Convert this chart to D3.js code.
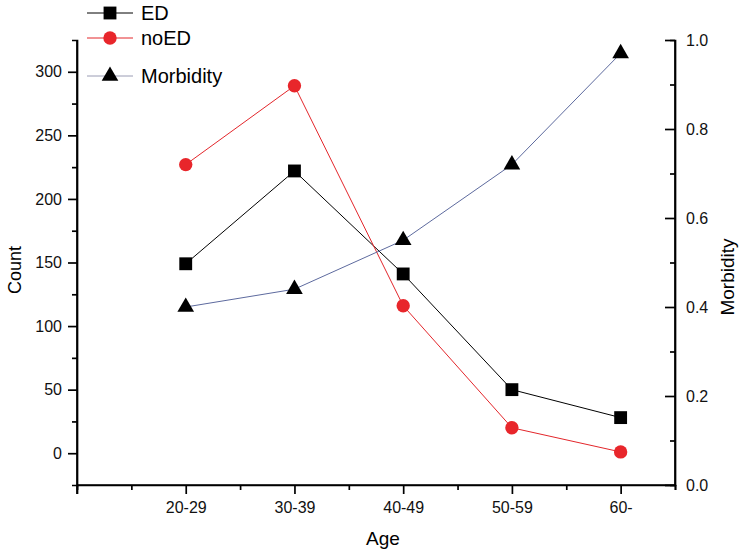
<!DOCTYPE html>
<html>
<head>
<meta charset="utf-8">
<script src="https://cdn.jsdelivr.net/npm/d3@7"></script>
<style>
  body { margin: 0; background: #fff; }
  svg { font-family: "Liberation Sans", Arial, sans-serif; }
</style>
</head>
<body>
<svg id="chart" width="744" height="555"></svg>
<script>
// data
const ageGroups = ['20-29', '30-39', '40-49', '50-59', '60-'];
const edCounts = [149, 222, 141, 50, 28];
const noEdCounts = [227, 289, 116, 20, 1];
const morbidity = [0.40, 0.44, 0.55, 0.72, 0.97];
const countTicks = [0, 50, 100, 150, 200, 250, 300];
const morbidityTicks = [0, 0.2, 0.4, 0.6, 0.8, 1.0];

const plotLeft = 77, plotRight = 675, plotTop = 40, plotBottom = 485;
const svg = d3.select('#chart');

const x = d3.scaleLinear().domain([0, 5.5]).range([plotLeft, plotRight]);
const yCount = d3.scaleLinear().domain([-25, 325]).range([plotBottom, plotTop]);
const yMorb = d3.scaleLinear().domain([0, 1]).range([plotBottom, plotTop]);

// axes
let xAxis = d3.axisBottom(x)
    .tickValues([0, 1, 2, 3, 4, 5])
    .tickSize(9)
    .tickPadding(8)
    .tickFormat(d => d === 0 ? '' : ageGroups[d - 1]);
let xMinor = d3.axisBottom(x).tickValues([0.5, 1.5, 2.5, 3.5, 4.5, 5.5]).tickSize(5).tickFormat('');

let yLeft = d3.axisLeft(yCount).tickValues(countTicks).tickSize(9).tickPadding(6);
let yLeftMinor = d3.axisLeft(yCount).tickValues([25, 75, 125, 175, 225, 275]).tickSize(5).tickFormat('');

let yRight = d3.axisRight(yMorb).tickValues(morbidityTicks).tickSize(-10).tickPadding(11)
    .tickFormat(d3.format('.1f'));
let yRightMinor = d3.axisRight(yMorb).tickValues([0.1, 0.3, 0.5, 0.7, 0.9]).tickSize(-5).tickFormat('');

function styleAxis(g) {
    g.select('.domain').attr('stroke', '#000').attr('stroke-width', 1.7);
    g.selectAll('.tick line').attr('stroke', '#000').attr('stroke-width', 1.7);
    g.selectAll('.tick text').attr('font-size', 16).attr('fill', '#111')
        .attr('font-family', '"Liberation Sans", Arial, sans-serif');
}

svg.append('g').attr('transform', `translate(0,${plotBottom})`).call(xMinor).call(styleAxis);
svg.append('g').attr('transform', `translate(0,${plotBottom})`).call(xAxis).call(styleAxis)
    .call(g => g.select('.domain').attr('d', `M${plotLeft},0H${plotRight}`));
svg.append('g').attr('transform', `translate(${plotLeft},0)`).call(yLeftMinor).call(styleAxis);
svg.append('g').attr('transform', `translate(${plotLeft},0)`).call(yLeft).call(styleAxis)
    .call(g => g.select('.domain').attr('d', `M0,${plotTop}V${plotBottom + 9}`));
svg.append('g').attr('transform', `translate(${plotRight},0)`).call(yRightMinor).call(styleAxis);
svg.append('g').attr('transform', `translate(${plotRight},0)`).call(yRight).call(styleAxis)
    .call(g => g.select('.domain').attr('d', `M0,${plotTop}V${plotBottom}`));

// axis titles
svg.append('text').attr('x', 383).attr('y', 545).attr('text-anchor', 'middle')
    .attr('font-size', 19).text('Age');
svg.append('text').attr('transform', 'translate(21,270) rotate(-90)').attr('text-anchor', 'middle')
    .attr('font-size', 18).text('Count');
svg.append('text').attr('transform', 'translate(734,277) rotate(-90)').attr('text-anchor', 'middle')
    .attr('font-size', 19).text('Morbidity');

// series
const series = [
    { name: 'ED', values: edCounts, y: yCount, line: '#000', fill: '#000', symbol: d3.symbolSquare, size: 165 },
    { name: 'noED', values: noEdCounts, y: yCount, line: '#e3262b', fill: '#e8262b', symbol: d3.symbolCircle, size: 140 },
    { name: 'Morbidity', values: morbidity, y: yMorb, line: '#5d6a9e', fill: '#000', symbol: d3.symbolTriangle, size: 120 }
];

const lineGen = (s) => d3.line().x((d, i) => x(i + 1)).y(d => s.y(d))(s.values);

series.forEach(s => {
    svg.append('path').attr('d', lineGen(s)).attr('fill', 'none')
        .attr('stroke', s.line).attr('stroke-width', 1);
    svg.selectAll(null).data(s.values).join('path')
        .attr('transform', (d, i) => `translate(${x(i + 1)},${s.y(d)})`)
        .attr('d', d3.symbol().type(s.symbol).size(s.size))
        .attr('fill', s.fill);
});

// legend
const legendY = [13, 38, 76];
series.forEach((s, i) => {
    let g = svg.append('g').attr('transform', `translate(0,${legendY[i]})`);
    g.append('line').attr('x1', 87).attr('x2', 133)
        .attr('stroke', i === 2 ? '#9a9cb4' : s.line).attr('stroke-width', 1);
    g.append('path').attr('transform', 'translate(110,0)')
        .attr('d', d3.symbol().type(s.symbol).size(s.size)).attr('fill', s.fill);
    g.append('text').attr('x', 141).attr('y', 7).attr('font-size', 20).text(s.name);
});
</script>
</body>
</html>
